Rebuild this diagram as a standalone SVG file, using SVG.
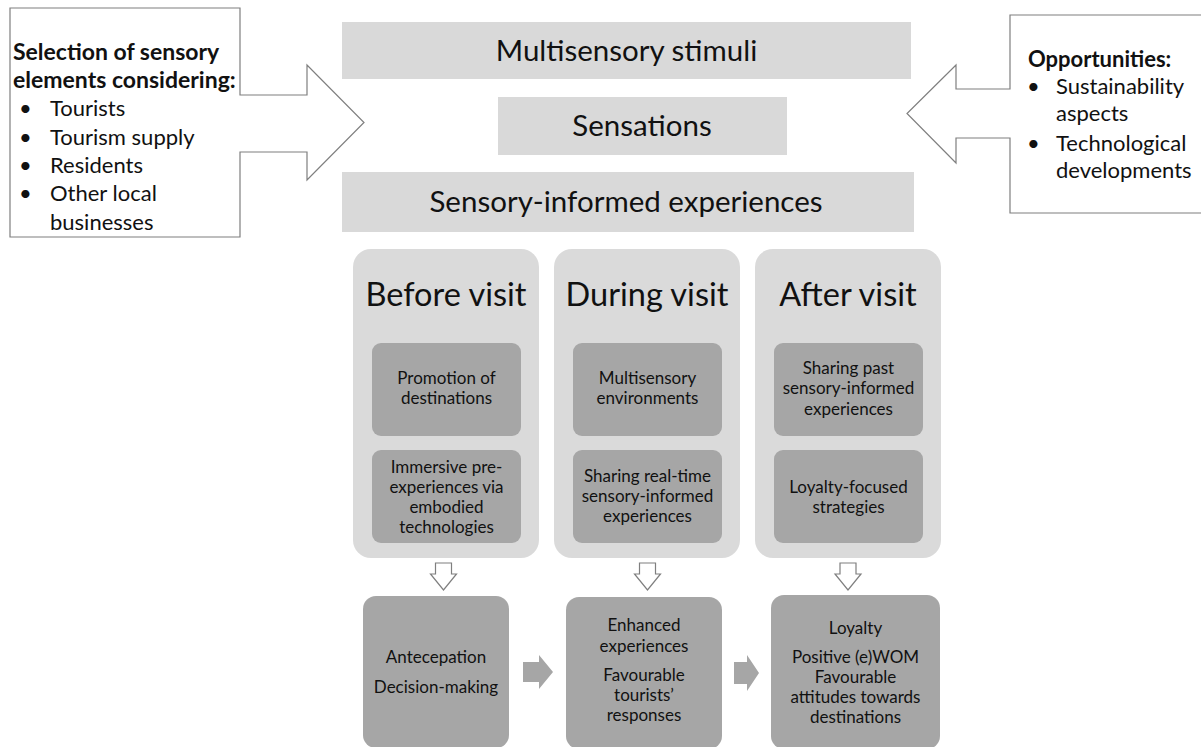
<svg xmlns="http://www.w3.org/2000/svg" width="1201" height="747" viewBox="0 0 1201 747">
  <style>
    text { font-family: Lato, "Open Sans", "Liberation Sans", sans-serif; fill: #111; }
    .bar { fill: #d9d9d9; }
    .panel { fill: #dadada; }
    .inner { fill: #a6a6a6; }
    .callout { fill: #fff; stroke: #7f7f7f; stroke-width: 1.2; }
    .down { fill: #fff; stroke: #7f7f7f; stroke-width: 1.2; }
    .right { fill: #a6a6a6; }
    .barText { font-size: 29.5px; text-anchor: middle; }
    .head { font-size: 32.5px; text-anchor: middle; }
    .box { font-size: 17px; text-anchor: middle; }
    .out { font-size: 17px; text-anchor: middle; }
    .side { font-size: 22px; }
    .bold { font-weight: bold; font-size: 23px; }
  </style>

  <!-- callout: selection of sensory elements -->
  <g id="selection">
    <path class="callout" d="M10,8 H240 V95 H307 V65 L364,122.5 L307,180 V152 H240 V237 H10 Z"/>
    <text class="side bold" x="13" y="60">Selection of sensory</text>
    <text class="side bold" x="13" y="88">elements considering:</text>
    <text class="side" x="19" y="116">•</text><text class="side" x="50" y="116">Tourists</text>
    <text class="side" x="19" y="145">•</text><text class="side" x="50" y="145">Tourism supply</text>
    <text class="side" x="19" y="173">•</text><text class="side" x="50" y="173">Residents</text>
    <text class="side" x="19" y="201">•</text><text class="side" x="50" y="201">Other local</text>
    <text class="side" x="50" y="230">businesses</text>
  </g>

  <!-- callout: opportunities -->
  <g id="opportunities">
    <path class="callout" d="M1203,15 H1010 V89 H956 V65 L907,113.5 L956,163 V138 H1010 V213 H1203"/>
    <text class="side bold" x="1028" y="67" style="font-size:22px">Opportunities:</text>
    <text class="side" x="1027" y="94">•</text><text class="side" x="1056" y="94">Sustainability</text>
    <text class="side" x="1056" y="121">aspects</text>
    <text class="side" x="1027" y="151">•</text><text class="side" x="1056" y="151">Technological</text>
    <text class="side" x="1056" y="178">developments</text>
  </g>

  <!-- stacked bars -->
  <g id="stimuli">
    <rect class="bar" x="342" y="22" width="569" height="57"/>
    <text class="barText" x="626.5" y="61">Multisensory stimuli</text>
  </g>
  <g id="sensations">
    <rect class="bar" x="498" y="97" width="289" height="58"/>
    <text class="barText" x="642" y="136">Sensations</text>
  </g>
  <g id="experiences">
    <rect class="bar" x="342" y="172" width="572" height="60"/>
    <text class="barText" x="626" y="212">Sensory-informed experiences</text>
  </g>

  <!-- phase panels -->
  <g id="before">
    <rect class="panel" x="353" y="249" width="186" height="309" rx="18"/>
    <text class="head" x="446" y="306">Before visit</text>
    <rect class="inner" x="372" y="343" width="149" height="93" rx="9"/>
    <text class="box" x="446.5" y="384">Promotion of</text>
    <text class="box" x="446.5" y="404">destinations</text>
    <rect class="inner" x="372" y="450" width="149" height="93" rx="9"/>
    <text class="box" x="446.5" y="473">Immersive pre-</text>
    <text class="box" x="446.5" y="493">experiences via</text>
    <text class="box" x="446.5" y="513">embodied</text>
    <text class="box" x="446.5" y="533">technologies</text>
  </g>
  <g id="during">
    <rect class="panel" x="554" y="249" width="186" height="309" rx="18"/>
    <text class="head" x="647" y="306">During visit</text>
    <rect class="inner" x="573" y="343" width="149" height="93" rx="9"/>
    <text class="box" x="647.5" y="384">Multisensory</text>
    <text class="box" x="647.5" y="404">environments</text>
    <rect class="inner" x="573" y="450" width="149" height="93" rx="9"/>
    <text class="box" x="647.5" y="482">Sharing real-time</text>
    <text class="box" x="647.5" y="502">sensory-informed</text>
    <text class="box" x="647.5" y="522">experiences</text>
  </g>
  <g id="after">
    <rect class="panel" x="755" y="249" width="186" height="309" rx="18"/>
    <text class="head" x="848" y="306">After visit</text>
    <rect class="inner" x="774" y="343" width="149" height="93" rx="9"/>
    <text class="box" x="848.5" y="374">Sharing past</text>
    <text class="box" x="848.5" y="394">sensory-informed</text>
    <text class="box" x="848.5" y="415">experiences</text>
    <rect class="inner" x="774" y="450" width="149" height="93" rx="9"/>
    <text class="box" x="848.5" y="493">Loyalty-focused</text>
    <text class="box" x="848.5" y="513">strategies</text>
  </g>

  <!-- outcome boxes -->
  <g id="anticipation">
    <rect class="inner" x="363" y="596" width="146" height="152" rx="13"/>
    <text class="out" x="436" y="663">Antecepation</text>
    <text class="out" x="436" y="693">Decision-making</text>
  </g>
  <g id="enhanced">
    <rect class="inner" x="566" y="597" width="156" height="152" rx="13"/>
    <text class="out" x="644" y="631">Enhanced</text>
    <text class="out" x="644" y="652">experiences</text>
    <text class="out" x="644" y="681">Favourable</text>
    <text class="out" x="644" y="701">tourists’</text>
    <text class="out" x="644" y="721">responses</text>
  </g>
  <g id="loyalty">
    <rect class="inner" x="771" y="595" width="169" height="154" rx="13"/>
    <text class="out" x="855.5" y="634">Loyalty</text>
    <text class="out" x="855.5" y="663">Positive (e)WOM</text>
    <text class="out" x="855.5" y="683">Favourable</text>
    <text class="out" x="855.5" y="703">attitudes towards</text>
    <text class="out" x="855.5" y="723">destinations</text>
  </g>

  <!-- connectors -->
  <g id="connectors">
    <path class="down" d="M435.5,563 H451.5 V574 H456.5 L443.5,590 L430.5,574 H435.5 Z"/>
    <path class="down" d="M639.5,563 H655.5 V574 H660.5 L647.5,590 L634.5,574 H639.5 Z"/>
    <path class="down" d="M840,563 H856 V574 H861 L848,590 L835,574 H840 Z"/>
    <path class="right" d="M523,662 H539 V655 L553,672 L539,689 V682 H523 Z"/>
    <path class="right" d="M734,662 H747 V655 L759,673 L747,691 V684 H734 Z"/>
  </g>
</svg>
